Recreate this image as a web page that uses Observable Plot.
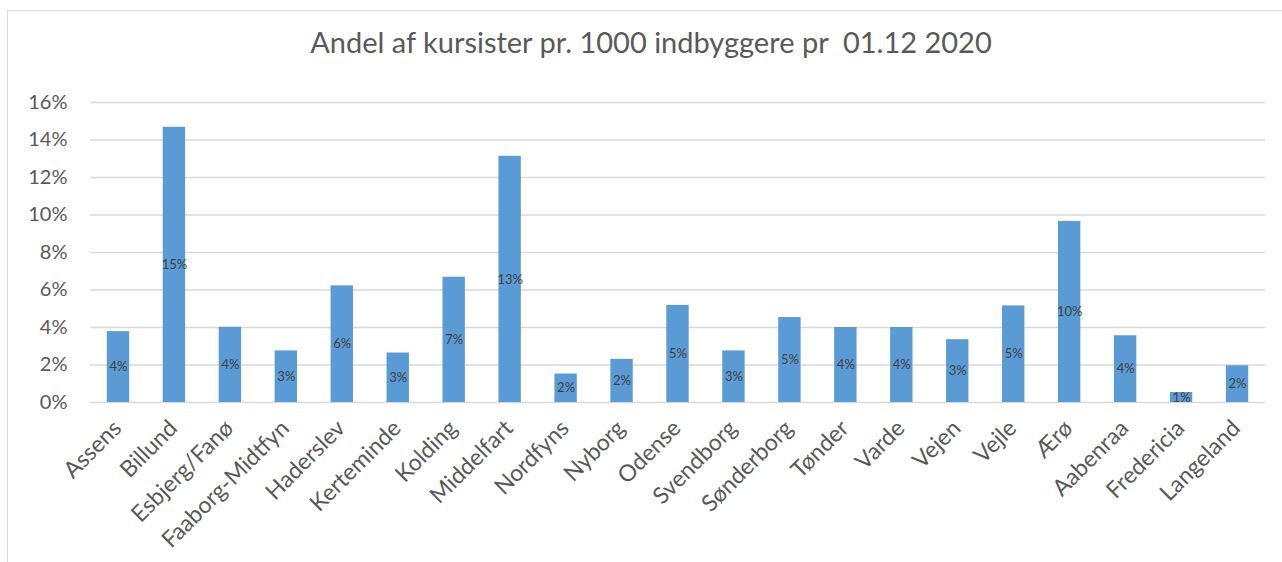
<!DOCTYPE html>
<html>
<head>
<meta charset="utf-8">
<script src="https://cdn.jsdelivr.net/npm/d3@7"></script>
<script src="https://cdn.jsdelivr.net/npm/@observablehq/plot@0.6"></script>
<style>
  html, body { margin: 0; padding: 0; background: #fff; overflow: hidden; }
  #wrap { position: relative; width: 1282px; height: 562px; font-family: Lato, "Open Sans", sans-serif; overflow: hidden; }
  #frame { position: absolute; left: 7px; top: 10px; width: 1300px; height: 600px; border: 1px solid #d9d9d9; box-sizing: border-box; }
  #title { position: relative; height: 88px; line-height: 1; text-align: center; color: #595959; font-size: 29px; font-weight: 400; padding-top: 27px; box-sizing: border-box; padding-left: 20px; white-space: pre; }
  #chart { position: relative; }
</style>
</head>
<body>
<div id="wrap">
  <div id="frame"></div>
  <div id="title">Andel af kursister pr. 1000 indbyggere pr  01.12 2020</div>
  <div id="chart"></div>
</div>
<script>
const categories = ["Assens", "Billund", "Esbjerg/Fanø", "Faaborg-Midtfyn", "Haderslev", "Kerteminde", "Kolding", "Middelfart", "Nordfyns", "Nyborg", "Odense", "Svendborg", "Sønderborg", "Tønder", "Varde", "Vejen", "Vejle", "Ærø", "Aabenraa", "Fredericia", "Langeland"];
const values = [3.78, 14.68, 4.01, 2.75, 6.22, 2.64, 6.68, 13.13, 1.52, 2.30, 5.18, 2.75, 4.53, 4.00, 4.00, 3.35, 5.15, 9.66, 3.56, 0.53, 1.96];
const yTicks = [0, 2, 4, 6, 8, 10, 12, 14, 16];

const data = categories.map((name, i) => ({name, value: values[i]}));

const chart = Plot.plot({
  width: 1282,
  height: 474,
  marginLeft: 90,
  marginRight: 17,
  marginTop: 14,
  marginBottom: 160,
  style: {fontFamily: "Lato, 'Open Sans', sans-serif", color: "#595959", background: "transparent", overflow: "visible"},
  x: {domain: categories, paddingInner: 0.6, paddingOuter: 0.3, round: false, label: null},
  y: {domain: [0, 16], label: null},
  marks: [
    Plot.gridY(yTicks, {stroke: "#d9d9d9", strokeOpacity: 1, strokeWidth: 1.5}),
    Plot.barY(data, {x: "name", y: "value", fill: "#5B9BD5"}),
    Plot.text(data, {x: "name", y: d => d.value / 2, text: d => Math.round(d.value) + "%", fill: "#404040", fontSize: 13}),
    Plot.axisY({ticks: yTicks, tickSize: 0, tickPadding: 23, tickFormat: d => d + "%", fontSize: 20, label: null}),
    Plot.axisX({tickSize: 0, tickRotate: -45, tickPadding: 22, dx: -1, fontSize: 23, label: null})
  ]
});
document.getElementById("chart").appendChild(chart);
</script>
</body>
</html>
